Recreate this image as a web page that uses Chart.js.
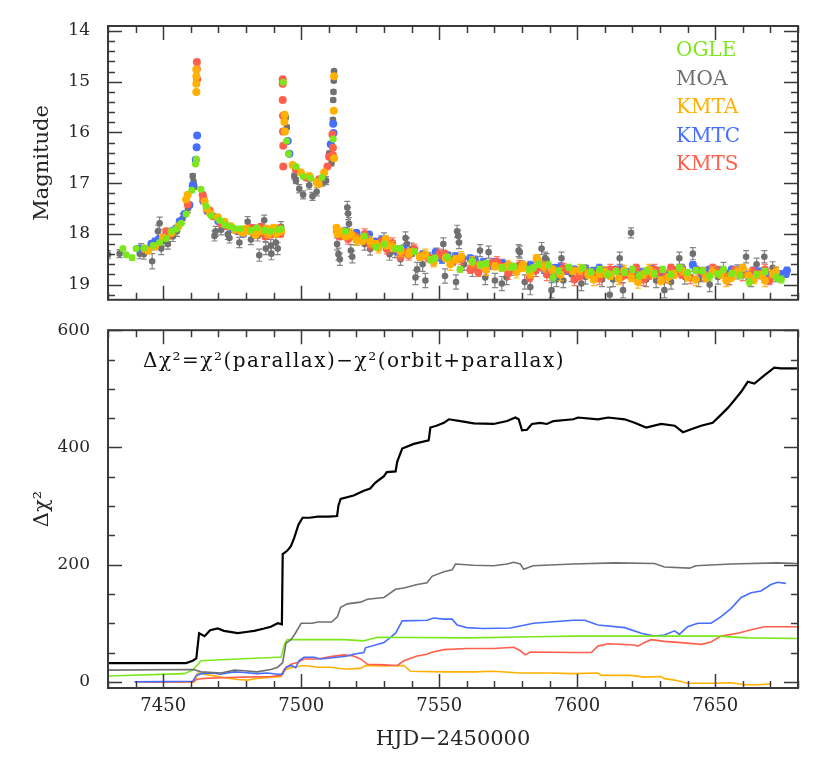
<!DOCTYPE html>
<html>
<head>
<meta charset="utf-8">
<script src="https://cdn.jsdelivr.net/npm/chart.js@4.4.1/dist/chart.umd.min.js"></script>
<style>
  body { margin: 0; background: #fff; }
  #wrap { position: relative; width: 830px; height: 765px; }
  #top { position: absolute; left: 0; top: 0; }
  #bot { position: absolute; left: 0; top: 310px; }
</style>
</head>
<body>
<div id="wrap">
  <canvas id="top" width="830" height="320"></canvas>
  <canvas id="bot" width="830" height="455"></canvas>
</div>
<script>
// light curve points: [HJD-2450000, magnitude, error]
const oglePts = [
  [7435.4,18.29,.04],[7436.6,18.41,.04],[7438.7,18.47,.05],[7440.2,18.29,.04],[7443.0,18.28,.04],[7446.3,18.23,.04],
  [7448.7,18.17,.04],[7451.1,18.09,.04],[7452.9,17.95,.03],[7454.7,17.91,.03],[7456.5,17.79,.03],[7458.3,17.61,.03],
  [7460.4,17.14,.02],[7461.7,16.62,.02],[7462.0,16.53,.02],[7463.7,17.12,.02],[7465.5,17.45,.03],[7467.4,17.64,.03],
  [7470.4,17.73,.03],[7472.2,17.82,.03],[7474,17.85,.03],[7475.8,17.89,.03],[7478,17.9,.03],[7481.8,17.93,.04],
  [7484,17.88,.04],[7486.6,17.93,.04],[7489,17.95,.04],[7491.5,17.92,.04],[7492.7,17.9,.04],
  [7493.5,15.01,.02],[7494.7,16.17,.02],[7495.4,16.42,.02],[7498.1,16.67,.03],[7500.7,16.87,.03],[7503.5,16.9,.03],
  [7507.5,16.89,.03],[7511.6,16.13,.02],
  [7516,17.95,.04],[7522.8,18.04,.04],[7527,18.26,.05],[7530,18.2,.05],[7534.2,18.29,.05],[7536,18.29,.05],
  [7541,18.35,.05],[7546.8,18.51,.06],[7548.5,18.48,.06],[7553,18.46,.06],[7557.5,18.7,.06],[7561.9,18.54,.06],
  [7564.9,18.61,.06],[7567,18.58,.06],[7572.7,18.67,.06],[7576.2,18.66,.06],[7577,18.64,.06],[7582.4,18.7,.06],
  [7584.1,18.67,.06],[7586,18.6,.06],[7589.6,18.61,.06],[7591.3,18.86,.07],[7593.2,18.73,.06],[7597,18.66,.06],
  [7602.1,18.67,.06],[7605,18.75,.06],[7608.1,18.7,.06],[7611,18.8,.07],[7614,18.74,.06],[7617.2,18.76,.06],
  [7620,18.7,.06],[7622.5,18.82,.07],[7625,18.73,.06],[7628,18.78,.06],[7631,18.7,.06],[7634,18.8,.06],
  [7637,18.67,.06],[7640,18.76,.06],[7643,18.72,.06],[7645.5,18.73,.06],[7648,18.84,.07],[7650.9,18.79,.06],
  [7653,18.7,.06],[7656,18.78,.06],[7659,18.82,.07],[7662.4,18.95,.07],[7665,18.8,.06],[7668,18.74,.06],
  [7672,18.86,.07],[7674,18.9,.07]
];
const moaPts = [
  [7430,18.41,.08],[7434.2,18.39,.08],[7441.5,18.39,.1],[7442,18.29,.1],[7443,18.4,.1],[7446,18.54,.15],
  [7448.1,17.95,.12],[7448.7,17.79,.12],[7449.3,18.29,.12],[7449.9,18.14,.1],[7451.7,18.2,.1],[7453.5,18.05,.1],
  [7455,17.95,.1],[7457,17.7,.1],[7459,17.5,.08],[7460.7,16.86,.05],[7461,16.98,.05],[7461.3,17.07,.05],
  [7468.6,18.04,.1],[7469,17.95,.1],[7471,17.92,.1],[7473.4,18.01,.1],[7474,18.08,.1],[7477.6,18.17,.1],
  [7480.6,17.76,.1],[7481.8,18.11,.1],[7484.2,18.04,.1],[7484.8,18.42,.12],[7486.6,17.73,.1],[7487,18.05,.1],
  [7487.2,18.29,.12],[7489,18.23,.12],[7489.2,18.39,.12],[7490.8,18.17,.12],[7491.5,18.29,.12],[7492.7,17.86,.1],
  [7494.4,15.7,.04],[7494.8,15.9,.04],[7497.5,16.86,.06],[7498.1,16.95,.06],[7499.3,17.11,.08],[7500.7,17.23,.08],
  [7502.9,17.04,.08],[7504.1,17.26,.08],[7505.6,17.17,.08],[7507.7,16.98,.08],[7509,16.95,.08],[7510.1,16.42,.06],
  [7511.0,16.6,.06],[7511.5,15.75,.04],[7511.6,15.36,.04],[7511.7,15.2,.04],[7511.8,14.98,.03],[7511.9,14.79,.03],
  [7513,18.2,.12],[7513.5,18.4,.12],[7514,18.5,.12],[7516.7,17.48,.12],[7517,17.6,.12],[7517.3,17.8,.12],
  [7518,18.33,.12],[7518.5,18.45,.12],[7520,18.1,.12],[7523,18.2,.12],[7525,18.3,.12],[7530,18.1,.12],
  [7532,18.4,.12],[7534,18.35,.12],[7536,18.5,.12],[7537.8,18.08,.12],[7538.3,18.2,.12],[7540,18.3,.12],
  [7541.4,18.86,.14],[7542,18.7,.14],[7544,18.6,.14],[7545,18.92,.14],[7549,18.4,.12],[7551.5,18.2,.12],
  [7552.1,18.83,.14],[7554,18.5,.12],[7556.5,17.95,.12],[7556.9,18.04,.12],[7557.2,18.17,.12],[7556.1,18.95,.14],
  [7559,18.6,.12],[7562,18.7,.14],[7564.8,18.33,.12],[7566.7,18.86,.14],[7567.9,18.36,.12],[7570.2,18.92,.14],
  [7572.7,18.98,.14],[7574.4,18.86,.14],[7576,18.7,.12],[7578.8,18.33,.12],[7579.2,18.36,.12],[7581,18.95,.14],
  [7583,19.05,.15],[7585,18.7,.14],[7587.1,18.29,.12],[7588.4,18.48,.12],[7588.9,18.51,.12],[7590.7,19.11,.15],
  [7592.5,18.9,.14],[7594.3,18.48,.12],[7595,18.92,.14],[7598,18.8,.14],[7601.5,18.98,.14],[7603,18.85,.14],
  [7606,18.8,.14],[7609,18.9,.14],[7611.8,19.2,.15],[7613,18.9,.14],[7615.4,18.48,.12],[7616.6,19.11,.15],
  [7619.5,17.98,.1],[7622,18.85,.14],[7625,18.9,.14],[7628.6,18.92,.14],[7630,18.8,.14],[7631.6,19.11,.15],
  [7634,18.95,.14],[7637,18.48,.12],[7639,18.85,.14],[7641.9,18.39,.12],[7644,18.9,.14],[7646,18.8,.14],
  [7648,19.0,.14],[7651,18.85,.14],[7653,18.7,.14],[7655.1,18.86,.14],[7658,18.75,.14],[7661.2,18.45,.12],
  [7663,18.9,.14],[7665,18.6,.12],[7667.8,18.45,.12],[7670.8,18.67,.12],[7672,18.8,.14]
];
const kmtcPts = [
  [7441.5,18.29,.06],[7443,18.3,.06],[7445.7,18.2,.06],[7446,18.25,.06],[7447,18.15,.06],[7448.5,18.1,.05],
  [7450.5,18.05,.05],[7452.9,17.95,.05],[7454.7,17.89,.05],[7456,17.75,.04],[7457.7,17.61,.04],[7459.5,17.43,.04],
  [7460.7,17.04,.03],[7461.8,16.54,.02],[7462.1,16.29,.02],[7462.3,16.06,.02],[7464.5,17.35,.03],[7466,17.55,.04],
  [7470,17.75,.04],[7472,17.82,.05],[7475,17.9,.05],[7477,17.95,.05],[7479,18.0,.05],[7481,17.92,.05],
  [7483,17.89,.05],[7486,17.98,.05],[7488,17.92,.05],[7490.2,17.95,.05],[7492.5,17.92,.05],
  [7495.1,16.17,.02],[7495.7,16.42,.02],[7510.7,16.23,.02],[7511.6,15.83,.02],[7511.7,16.01,.02],
  [7513.5,18.0,.05],[7516,17.95,.08],[7520,17.98,.05],[7522,18.1,.08],[7524.6,18.01,.05],[7526.8,18.15,.05],
  [7529,18.12,.08],[7532,18.2,.06],[7535,18.35,.06],[7537,18.3,.08],[7540,18.38,.06],[7544,18.4,.06],
  [7546,18.45,.08],[7548.7,18.36,.06],[7549.7,18.45,.06],[7551,18.5,.08],[7553,18.42,.06],[7556,18.45,.08],
  [7558.3,18.48,.06],[7561.2,18.48,.06],[7563,18.52,.08],[7566,18.55,.06],[7568,18.62,.08],[7570,18.55,.06],
  [7573,18.58,.08],[7575,18.62,.06],[7578,18.68,.08],[7580,18.6,.06],[7583,18.62,.08],[7586.5,18.58,.06],
  [7588,18.7,.08],[7591.3,18.86,.07],[7592,18.67,.06],[7594,18.65,.08],[7596.1,18.73,.06],[7599,18.7,.06],
  [7601,18.75,.08],[7603,18.68,.06],[7605.7,18.73,.06],[7608,18.68,.08],[7610,18.72,.06],[7612,18.8,.08],
  [7614,18.7,.06],[7616,18.7,.08],[7618,18.75,.06],[7621,18.72,.06],[7623,18.76,.08],[7625,18.79,.07],
  [7627,18.7,.08],[7630,18.74,.06],[7633,18.8,.08],[7635,18.72,.06],[7638,18.68,.08],[7641.9,18.61,.06],
  [7643,18.7,.06],[7645,18.78,.08],[7648,18.7,.06],[7650,18.72,.08],[7652,18.72,.06],[7654,18.8,.08],
  [7656,18.7,.06],[7658,18.72,.08],[7660,18.76,.06],[7662,18.82,.08],[7664,18.72,.06],[7666,18.75,.08],
  [7668,18.78,.06],[7670,18.82,.08],[7673.8,18.79,.06],[7675.6,18.79,.06],[7676,18.72,.06]
];
const kmtsPts = [
  [7443.3,18.3,.06],[7451.1,17.95,.05],[7451.5,18.05,.05],[7452.5,18.0,.05],[7458.9,17.42,.04],
  [7462.2,14.61,.02],[7462.2,14.75,.02],[7462.3,14.95,.02],[7464.3,17.23,.03],[7464.6,17.3,.03],[7466.8,17.54,.04],
  [7468,17.65,.04],[7471,17.8,.05],[7473,17.85,.05],[7476,17.92,.05],[7478,17.95,.06],[7480.6,17.92,.05],
  [7482,17.88,.06],[7483,18.0,.06],[7485.4,17.86,.06],[7486,17.98,.06],[7487,18.05,.06],[7489,18.01,.06],
  [7490.5,17.95,.06],[7492.1,17.89,.06],[7492.5,18.0,.06],
  [7493.3,14.95,.02],[7493.3,15.04,.02],[7493.3,15.36,.02],[7493.4,15.67,.02],[7493.4,15.98,.02],[7493.5,16.26,.02],
  [7493.5,16.67,.02],[7498.1,16.73,.03],[7501.7,16.89,.03],[7506.5,16.92,.03],[7509.5,16.67,.03],[7510.1,16.48,.03],
  [7511.3,16.04,.03],[7511.5,16.45,.03],[7511.5,16.3,.03],
  [7513,17.95,.06],[7514,18.05,.06],[7517,18.1,.1],[7519.1,18.04,.06],[7521,18.1,.06],[7523,18.0,.1],
  [7525,18.22,.1],[7526.8,18.2,.06],[7529,18.15,.06],[7531,18.3,.1],[7533,18.18,.1],[7535,18.3,.07],
  [7536,18.45,.07],[7537,18.36,.07],[7539,18.42,.1],[7541,18.3,.1],[7543,18.45,.07],[7546.1,18.48,.07],
  [7548,18.52,.1],[7550,18.4,.1],[7552,18.4,.07],[7555,18.55,.07],[7558,18.5,.1],[7561.3,18.7,.08],
  [7563,18.62,.12],[7564.2,18.76,.08],[7567,18.7,.12],[7569.1,18.58,.07],[7571,18.55,.1],[7573,18.65,.07],
  [7575,18.78,.12],[7577,18.7,.08],[7579,18.62,.1],[7582.8,18.86,.08],[7585,18.72,.12],[7587,18.65,.07],
  [7589,18.8,.12],[7593,18.75,.08],[7595,18.68,.1],[7597,18.7,.07],[7599,18.9,.12],[7600.9,18.83,.08],
  [7603,18.74,.1],[7605.7,18.8,.08],[7608,18.88,.12],[7610,18.78,.08],[7612,18.7,.1],[7614,18.72,.07],
  [7616,18.85,.12],[7618,18.8,.08],[7620,18.76,.1],[7621.4,18.67,.07],[7624,18.9,.12],[7626,18.82,.08],
  [7628,18.7,.1],[7629,18.75,.08],[7632,18.84,.12],[7634,18.67,.07],[7636,18.75,.1],[7638,18.8,.08],
  [7641,18.86,.12],[7644.3,18.73,.07],[7646,18.8,.12],[7649.1,18.67,.07],[7651,18.74,.1],[7653,18.78,.08],
  [7655,18.88,.12],[7657,18.72,.07],[7660,18.8,.12],[7663.6,18.73,.07],[7666,18.8,.08],[7668,18.7,.1],
  [7669.6,18.92,.08],[7672,18.78,.08]
];
const kmtaPts = [
  [7443.3,18.29,.06],[7444.5,18.33,.06],[7447,18.25,.06],[7449.9,18.07,.05],[7453,17.98,.05],[7455.5,17.85,.04],
  [7458.3,17.32,.04],[7458.9,17.23,.04],[7462,14.76,.02],[7462,14.89,.02],[7462,15.04,.02],[7462,15.2,.02],
  [7465,17.36,.03],[7465.8,17.5,.03],[7467,17.6,.04],[7469.8,17.67,.04],[7472.2,17.76,.04],[7474.5,17.85,.05],
  [7476,17.92,.05],[7478.2,17.95,.05],[7479,17.98,.06],[7480,17.9,.05],[7481.8,17.95,.05],[7483.5,18.02,.05],
  [7484,17.9,.06],[7485.4,17.95,.05],[7487.5,17.9,.05],[7488,18.0,.06],[7489,17.92,.05],[7490,17.88,.06],
  [7491,18.0,.05],[7492.7,17.95,.05],
  [7493.9,15.79,.02],[7494.1,15.98,.02],[7494,15.65,.02],[7496.9,16.64,.03],[7499.9,16.79,.03],[7502.9,16.86,.03],
  [7505.6,16.98,.03],[7506.3,17.02,.03],[7508.3,16.79,.03],[7511.8,15.57,.02],[7511.9,14.89,.02],[7511.9,16.51,.02],
  [7512.8,17.88,.05],[7513.2,18.0,.05],[7515,17.95,.05],[7516,18.05,.05],[7518,18.0,.1],[7520,18.12,.1],
  [7522.1,18.14,.06],[7522.6,18.08,.06],[7525,18.15,.1],[7527,18.2,.06],[7528,18.28,.1],[7530.6,18.1,.06],
  [7531,18.23,.06],[7533,18.25,.1],[7536,18.35,.1],[7539,18.39,.07],[7539.5,18.36,.07],[7543,18.45,.07],
  [7545,18.4,.1],[7548,18.55,.1],[7552.3,18.48,.07],[7552.7,18.48,.07],[7554,18.6,.12],[7556,18.5,.07],
  [7558,18.45,.1],[7562,18.55,.1],[7564.9,18.61,.07],[7567,18.7,.12],[7570.2,18.64,.07],[7572.7,18.67,.07],
  [7575,18.62,.1],[7578,18.75,.12],[7580,18.67,.07],[7580.4,18.61,.07],[7583,18.79,.08],[7585.3,18.48,.07],
  [7586,18.54,.07],[7588,18.65,.1],[7591,18.7,.07],[7594,18.8,.12],[7598.5,18.73,.07],[7601,18.7,.1],
  [7604,18.8,.08],[7606,18.9,.12],[7608.1,18.78,.08],[7610,18.75,.1],[7612,18.82,.08],[7615,18.88,.12],
  [7617,18.72,.1],[7619.6,18.86,.08],[7622,18.95,.12],[7624,18.8,.08],[7626,18.7,.1],[7627.4,18.79,.08],
  [7630.4,18.92,.08],[7633,18.85,.12],[7635,18.8,.08],[7638,18.72,.1],[7640,18.85,.08],[7643,18.9,.12],
  [7646.7,18.86,.08],[7649,18.75,.1],[7652,18.8,.08],[7654,18.92,.12],[7656,18.85,.08],[7658,18.75,.1],
  [7660,18.67,.07],[7662,18.82,.12],[7664,18.9,.08],[7667,18.82,.08],[7668,18.92,.12],[7670.8,18.79,.07],
  [7672,18.75,.1]
];

// cumulative delta chi2: [HJD-2450000, value]
const chiTotal = [
  [7430,32],[7458.3,32],[7460.7,36],[7462,40],[7463,83],[7465,78],[7467,88],[7469.8,91],[7472,87],[7477,83],
  [7480,85],[7483,87],[7486.6,91],[7489,94],[7491.5,100],[7493,98],[7493.3,218],[7495,224],[7496.3,232],
  [7497.5,246],[7499,268],[7500.5,280],[7503,280],[7506,282],[7510,282],[7513,283],[7513.5,301],[7514.3,312],
  [7519,318],[7522.7,326],[7525,330],[7526.9,340],[7530,351],[7531,358],[7534.2,359],[7534.8,376],[7536.6,398],
  [7540.8,406],[7546.2,412],[7546.8,434],[7549,437],[7551.7,442],[7553.5,448],[7557.7,445],[7562.5,441],
  [7569.7,440],[7574.6,445],[7577.6,451],[7578.8,448],[7580,429],[7581.8,430],[7583.6,440],[7586.6,442],
  [7589,440],[7591.4,445],[7598.6,448],[7600.3,451],[7607.5,448],[7611.2,451],[7617.2,448],[7620.8,442],
  [7625,434],[7630.4,440],[7635.3,437],[7638.3,426],[7641.3,431],[7644.9,437],[7649.1,442],[7651.5,453],
  [7654.5,467],[7657,481],[7659.4,495],[7661.8,512],[7664.2,509],[7667.8,523],[7671.4,536],[7673.8,535],[7680,535]
];
const chiMoa = [
  [7430,20],[7461,21],[7463.7,17],[7471,15],[7475.8,20],[7479.4,19],[7484,17],[7489,21],[7491.5,25],[7493.3,33],
  [7494.5,66],[7496.3,72],[7497.5,80],[7500,100],[7504,100],[7506,102],[7511,102],[7513.1,111],[7514.3,127],
  [7516.7,133],[7521.5,136],[7524,141],[7530,144],[7534.2,158],[7537.2,160],[7542,166],[7545.6,169],[7547.4,180],
  [7551.7,188],[7554.7,191],[7555.9,201],[7562.5,199],[7569.7,198],[7574.6,201],[7577,204],[7579.4,201],
  [7580.6,192],[7584,198],[7598.6,201],[7613.6,203],[7628,202],[7631.6,196],[7640.7,194],[7643,198],
  [7655.7,201],[7672.6,203],[7680,202]
];
const chiOgle = [
  [7430,10],[7457.7,14],[7460.7,20],[7463.7,36],[7477,39],[7491.5,42],[7492.7,42],[7494,65],[7495,72],
  [7515.5,72],[7522.7,70],[7527.6,76],[7560,75],[7584,77],[7598.6,78],[7631,78],[7651,78],[7661.8,75],[7680,74]
];
const chiKmtc = [
  [7439.6,0],[7460.7,1],[7462,11],[7463.7,14],[7468,15],[7470.5,13],[7475.8,17],[7479.4,16],[7484,14],
  [7487.8,15],[7491.5,13],[7493.3,13],[7494.5,25],[7496.3,28],[7498,24],[7499.2,36],[7501,42],[7504.7,42],
  [7507,39],[7513,42],[7516.7,44],[7519,47],[7522.7,50],[7523.3,58],[7530,67],[7534.2,83],[7536.6,104],
  [7545.6,105],[7548,109],[7551.7,107],[7554.7,107],[7556.5,97],[7560,92.5],[7566,91],[7575.8,92],[7584.2,100],
  [7598.6,105],[7602.7,105],[7607.5,97],[7617.2,92.5],[7623.2,83],[7628,78],[7631.6,80],[7635.3,87],[7637,81],
  [7640,94],[7643.7,100],[7648.5,100],[7652,111],[7655.7,125],[7659.4,144],[7663,152],[7666.6,155],
  [7670.2,166],[7672.6,170],[7675.6,168]
];
const chiKmts = [
  [7443.3,0],[7460.7,0],[7462,4],[7465,6],[7471,7],[7479.4,8],[7489,9],[7492.7,11],[7493.9,22],[7496.3,30],
  [7498.7,33],[7501,39],[7506,39],[7510.7,43],[7515.5,46],[7519,44],[7521.5,39],[7524,30],[7530,29],
  [7534.8,28],[7537.2,36],[7542,44],[7545.6,47],[7547,50],[7551.7,55],[7560,57],[7569.7,57],[7577,59],
  [7579.4,53],[7581.2,46],[7583,51],[7598.6,50],[7605.1,50],[7607.5,61],[7611.2,65],[7620.8,63],[7622,61],
  [7624.4,67],[7626.8,72],[7631.6,69],[7637.7,67],[7644.9,64],[7648.5,68],[7652.1,78],[7658.2,83],[7663,89],
  [7667.8,94],[7680,94]
];
const chiKmta = [
  [7440,0],[7461.3,0],[7462,8],[7462.5,15],[7467.4,11],[7472.2,7],[7477,4],[7480.6,3],[7484,6],[7489,8],
  [7492.7,9],[7493.9,20],[7496.3,24],[7501,28],[7505.9,25],[7510.7,25],[7515.5,22],[7516.7,22],[7521.5,23],
  [7523.3,28],[7529,27],[7537.2,28],[7539.6,18],[7551.7,17],[7562.5,17],[7569.7,18],[7579.4,15],[7589,15],
  [7598.6,14],[7607.5,15],[7608.7,11],[7619.6,11],[7624.4,8],[7630.4,9],[7631.6,5.5],[7635.3,3],[7640,-2.5],
  [7650,-2.5],[7655.7,-1.5],[7660.6,-5],[7665.4,-5],[7670.2,-3.5]
];

// tick labels
const dayTicks = [7450, 7500, 7550, 7600, 7650];
const magTicks = [14, 15, 16, 17, 18, 19];
const chiTicks = [0, 200, 400, 600];

const names = ['OGLE', 'MOA', 'KMTA', 'KMTC', 'KMTS'];
const colors = ['rgb(124,232,28)', 'rgb(112,112,112)', 'rgb(255,176,0)', 'rgb(70,110,255)', 'rgb(255,95,75)'];

const serif = '"DejaVu Serif", "Liberation Serif", serif';
const ink = '#262626';

function eachTick(min, max, minor, major, cb) {
  const i0 = Math.ceil(min / minor - 1e-9), i1 = Math.floor(max / minor + 1e-9);
  for (let i = i0; i <= i1; i++) {
    const v = i * minor, r = v / major;
    cb(v, Math.abs(r - Math.round(r)) < 1e-6);
  }
}

// box around the plot with inward ticks on all four sides
const frameTicks = {
  id: 'frameTicks',
  afterDatasetsDraw(chart, args, opts) {
    const {ctx, chartArea: a, scales: {x, y}} = chart;
    ctx.save();
    ctx.strokeStyle = '#3a3a3a';
    ctx.lineWidth = 1.5;
    ctx.beginPath();
    eachTick(x.min, x.max, opts.xMinor, opts.xMajor, (v, big) => {
      const px = Math.round(x.getPixelForValue(v)) + 0.5, len = big ? 14 : 7;
      ctx.moveTo(px, a.bottom); ctx.lineTo(px, a.bottom - len);
      ctx.moveTo(px, a.top); ctx.lineTo(px, a.top + len);
    });
    eachTick(Math.min(y.min, y.max), Math.max(y.min, y.max), opts.yMinor, opts.yMajor, (v, big) => {
      const py = Math.round(y.getPixelForValue(v)) + 0.5, len = big ? 14 : 7;
      ctx.moveTo(a.left, py); ctx.lineTo(a.left + len, py);
      ctx.moveTo(a.right, py); ctx.lineTo(a.right - len, py);
    });
    ctx.stroke();
    ctx.lineWidth = 2;
    ctx.strokeRect(a.left, a.top, a.right - a.left, a.bottom - a.top);
    ctx.restore();
  }
};

// vertical error bars drawn just under each dataset's points
const errorBars = {
  id: 'errorBars',
  beforeDatasetDraw(chart, args) {
    const ds = chart.data.datasets[args.index];
    if (!ds.errs) return;
    const {ctx, chartArea: a, scales: {x, y}} = chart;
    ctx.save();
    ctx.beginPath();
    ctx.rect(a.left, a.top, a.right - a.left, a.bottom - a.top);
    ctx.clip();
    ctx.strokeStyle = ds.backgroundColor;
    ctx.globalAlpha = 0.85;
    ctx.lineWidth = 1.2;
    ctx.beginPath();
    ds.data.forEach((p, i) => {
      const e = ds.errs[i];
      const px = x.getPixelForValue(p.x);
      const y1 = y.getPixelForValue(p.y - e), y2 = y.getPixelForValue(p.y + e);
      ctx.moveTo(px, y1); ctx.lineTo(px, y2);
      ctx.moveTo(px - 3, y1); ctx.lineTo(px + 3, y1);
      ctx.moveTo(px - 3, y2); ctx.lineTo(px + 3, y2);
    });
    ctx.stroke();
    ctx.restore();
  }
};

const legendText = {
  id: 'legendText',
  afterDraw(chart) {
    const ctx = chart.ctx;
    ctx.save();
    ctx.font = '20px ' + serif;
    ctx.textAlign = 'left';
    ctx.textBaseline = 'alphabetic';
    names.forEach((n, i) => {
      ctx.fillStyle = colors[i];
      ctx.fillText(n, 676, 56 + i * 28.5);
    });
    ctx.restore();
  }
};

const formulaText = {
  id: 'formulaText',
  afterDraw(chart) {
    const ctx = chart.ctx;
    ctx.save();
    ctx.font = '20px ' + serif;
    ctx.letterSpacing = '1.5px';
    ctx.fillStyle = '#111';
    ctx.textAlign = 'left';
    ctx.fillText('\u0394\u03c7\u00b2=\u03c7\u00b2(parallax)\u2212\u03c7\u00b2(orbit+parallax)', 143, 57);
    ctx.restore();
  }
};

function ptsData(pts) { return pts.map(p => ({x: p[0], y: p[1]})); }
function ptsErr(pts) { return pts.map(p => p[2]); }
function lineData(arr) { return arr.map(p => ({x: p[0], y: p[1]})); }
function fixedTicks(vals) { return s => { s.ticks = vals.map(v => ({value: v})); }; }

const tickFont = {family: serif, size: 17};
const titleFont = {family: serif, size: 21};

// top panel: light curve (index 0 drawn on top)
const lcOrder = [[oglePts, 0, 3.5], [kmtaPts, 2, 4], [kmtsPts, 4, 4], [kmtcPts, 3, 4], [moaPts, 1, 3.3]];
new Chart(document.getElementById('top'), {
  type: 'scatter',
  data: {
    datasets: lcOrder.map(([pts, c, r]) => ({
      label: names[c],
      data: ptsData(pts),
      errs: ptsErr(pts),
      backgroundColor: colors[c],
      borderWidth: 0,
      pointRadius: r,
      pointHoverRadius: r
    }))
  },
  options: {
    responsive: false,
    animation: false,
    events: [],
    layout: {padding: {left: 0, right: 32, top: 26, bottom: 6}},
    plugins: {legend: {display: false}, tooltip: {enabled: false},
      frameTicks: {xMinor: 10, xMajor: 50, yMinor: 0.2, yMajor: 1}},
    scales: {
      x: {type: 'linear', min: 7430, max: 7680, display: false},
      y: {
        type: 'linear', reverse: true, min: 13.9, max: 19.3,
        grid: {display: false}, border: {display: false},
        afterBuildTicks: fixedTicks(magTicks),
        ticks: {font: tickFont, color: ink, padding: 10, callback: v => String(v)},
        title: {display: true, text: 'Magnitude', font: titleFont, color: ink, padding: {top: 30, bottom: 0}},
        afterFit(s) { s.width = 108; }
      }
    }
  },
  plugins: [errorBars, frameTicks, legendText]
});

// bottom panel: cumulative delta chi2
const chiSets = [
  [chiTotal, '#000000', 2.2], [chiMoa, colors[1], 1.6], [chiOgle, colors[0], 1.6],
  [chiKmtc, colors[3], 1.6], [chiKmts, colors[4], 1.6], [chiKmta, colors[2], 1.6]
];
new Chart(document.getElementById('bot'), {
  type: 'scatter',
  data: {
    datasets: chiSets.map(([arr, col, w]) => ({
      data: lineData(arr),
      showLine: true,
      borderColor: col,
      borderWidth: w,
      pointRadius: 0,
      tension: 0
    }))
  },
  options: {
    responsive: false,
    animation: false,
    events: [],
    layout: {padding: {left: 0, right: 32, top: 10, bottom: 0}},
    plugins: {legend: {display: false}, tooltip: {enabled: false},
      frameTicks: {xMinor: 10, xMajor: 50, yMinor: 50, yMajor: 200}},
    scales: {
      x: {
        type: 'linear', min: 7430, max: 7680,
        grid: {display: false}, border: {display: false},
        afterBuildTicks: fixedTicks(dayTicks),
        ticks: {font: {family: serif, size: 18}, color: ink, padding: 0, callback: v => String(v)},
        title: {display: true, text: 'HJD\u22122450000', font: titleFont, color: ink, padding: {top: 0, bottom: 13}},
        afterFit(s) { s.height = 77; }
      },
      y: {
        type: 'linear', min: -10.5, max: 600,
        grid: {display: false}, border: {display: false},
        afterBuildTicks: fixedTicks(chiTicks),
        ticks: {font: tickFont, color: ink, padding: 10, callback: v => String(v)},
        title: {display: true, text: '\u0394\u03c7\u00b2', font: titleFont, color: ink, padding: {top: 30, bottom: 0}},
        afterFit(s) { s.width = 108; }
      }
    }
  },
  plugins: [frameTicks, formulaText]
});
</script>
</body>
</html>
